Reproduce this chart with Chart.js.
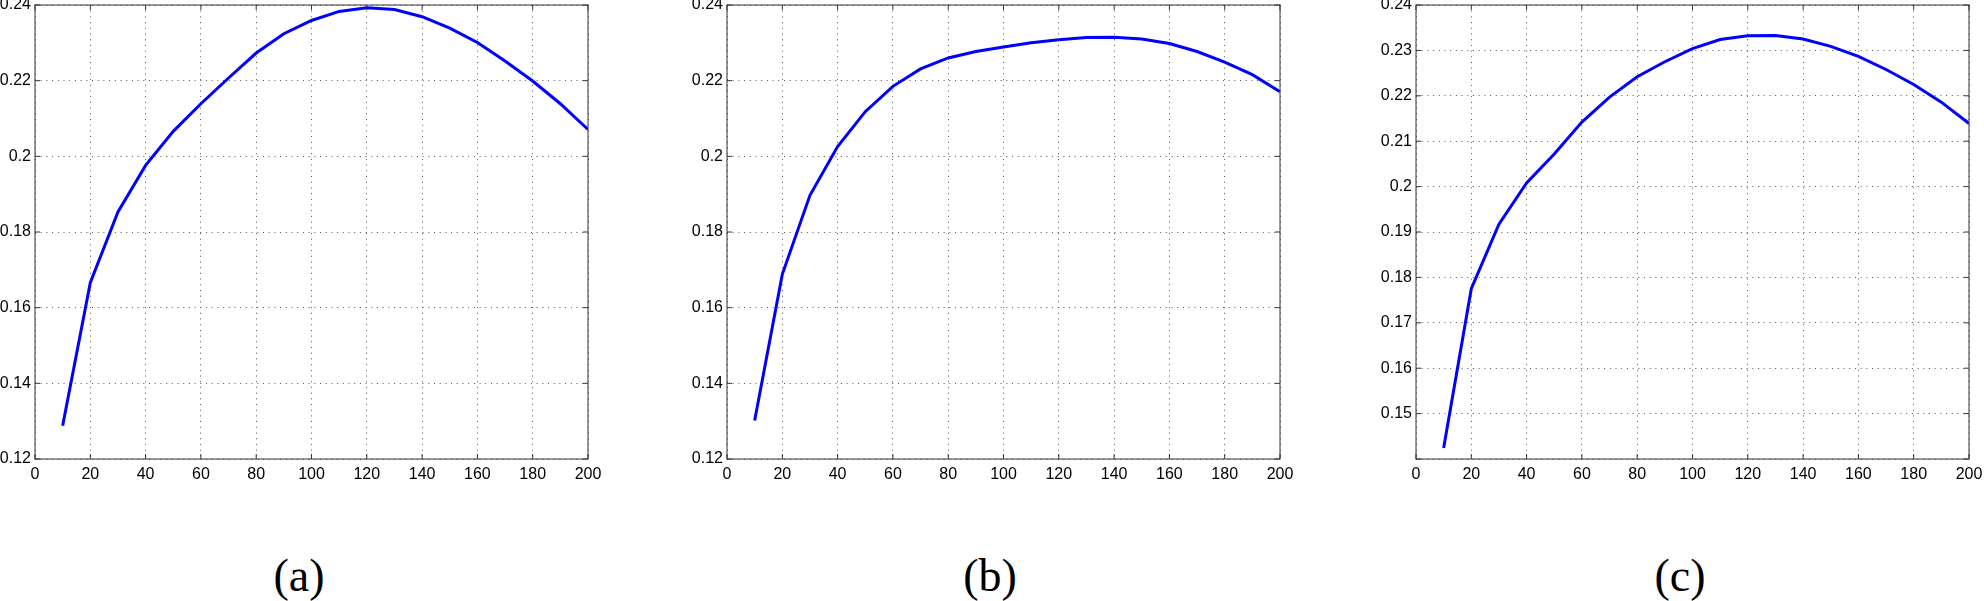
<!DOCTYPE html>
<html>
<head>
<meta charset="utf-8">
<script src="https://cdn.jsdelivr.net/npm/chart.js@4/dist/chart.umd.min.js"></script>
<style>
  html, body { margin: 0; padding: 0; background: #fff; }
  body { width: 1984px; height: 601px; position: relative; overflow: hidden; }
  .panel { position: absolute; top: 0; width: 623px; height: 490px; }
  .caption {
    position: absolute; top: 553px; width: 200px; margin-left: -100px;
    text-align: center; font-family: "Liberation Serif", "Times New Roman", serif;
    font-size: 46px; line-height: 46px; color: #000;
  }
</style>
</head>
<body>
<div class="panel" style="left:-5.5px"><canvas id="chart-a"></canvas></div>
<div class="panel" style="left:687px"><canvas id="chart-b"></canvas></div>
<div class="panel" style="left:1376px"><canvas id="chart-c"></canvas></div>
<div class="caption" style="left:299px">(a)</div>
<div class="caption" style="left:990px">(b)</div>
<div class="caption" style="left:1680px">(c)</div>
<script>
// x positions shared by all three panels
const xValues = [10, 20, 30, 40, 50, 60, 70, 80, 90, 100, 110, 120, 130, 140, 150, 160, 170, 180, 190, 200];

// values
const seriesA = [0.1288, 0.1666, 0.1853, 0.1976, 0.2066, 0.2139, 0.2207, 0.2273, 0.2324, 0.2359,
                 0.2383, 0.2393, 0.2388, 0.2369, 0.2339, 0.2301, 0.2252, 0.2199, 0.2139, 0.2071];
const seriesB = [0.1302, 0.1688, 0.1897, 0.2026, 0.2118, 0.2185, 0.2231, 0.2260, 0.2277, 0.2289,
                 0.2300, 0.2308, 0.2314, 0.2315, 0.2310, 0.2298, 0.2277, 0.2249, 0.2216, 0.2171];
const seriesC = [0.1424, 0.1775, 0.1917, 0.2008, 0.2072, 0.2142, 0.2197, 0.2242, 0.2275, 0.2304,
                 0.2324, 0.2332, 0.2333, 0.2325, 0.2309, 0.2287, 0.2258, 0.2225, 0.2186, 0.2139];

// axis ranges
const xRange = { min: 0, max: 200, step: 20 };
const yRangeAB = { min: 0.12, max: 0.24, step: 0.02 };
const yRangeC = { min: 0.14, max: 0.24, step: 0.01 };
const hiddenYTicksC = [0.14];

const tickFont = { family: "'Liberation Sans', Arial, sans-serif", size: 16 };

// box round the plot area with MATLAB style inward ticks
const framePlugin = {
  id: 'frame',
  afterDatasetsDraw(chart) {
    const { ctx, chartArea: a, scales } = chart;
    ctx.save();
    ctx.strokeStyle = '#333';
    ctx.lineWidth = 1;
    ctx.strokeRect(a.left, a.top, a.right - a.left, a.bottom - a.top);
    const len = 5;
    ctx.beginPath();
    scales.x.ticks.forEach(t => {
      const px = scales.x.getPixelForValue(t.value);
      ctx.moveTo(px, a.bottom); ctx.lineTo(px, a.bottom - len);
      ctx.moveTo(px, a.top); ctx.lineTo(px, a.top + len);
    });
    scales.y.ticks.forEach(t => {
      const py = scales.y.getPixelForValue(t.value);
      ctx.moveTo(a.left, py); ctx.lineTo(a.left + len, py);
      ctx.moveTo(a.right, py); ctx.lineTo(a.right - len, py);
    });
    ctx.stroke();
    ctx.restore();
  }
};

function makeChart(id, values, yRange, hidden = []) {
  const ctx = document.getElementById(id);
  return new Chart(ctx, {
    type: 'line',
    data: {
      labels: xValues,
      datasets: [{
        data: xValues.map((x, i) => ({ x, y: values[i] })),
        borderColor: '#0000ff',
        borderWidth: 3,
        pointRadius: 0,
        tension: 0,
        fill: false
      }]
    },
    options: {
      responsive: true,
      maintainAspectRatio: false,
      animation: false,
      events: [],
      layout: { padding: { top: 5, right: 30, bottom: 0, left: 0 } },
      plugins: { legend: { display: false }, tooltip: { enabled: false } },
      scales: {
        x: {
          type: 'linear',
          min: xRange.min,
          max: xRange.max,
          afterFit(scale) {
            scale.height = 31;
            scale.paddingLeft = 0;
            scale.paddingRight = 0;
          },
          ticks: {
            stepSize: xRange.step,
            color: '#000',
            font: tickFont,
            padding: 6,
            maxRotation: 0,
            autoSkip: false
          },
          grid: { color: '#555', lineWidth: 1, drawTicks: false },
          border: { display: false, dash: [1, 4.7] }
        },
        y: {
          min: yRange.min,
          max: yRange.max,
          afterFit(scale) {
            scale.width = 40;
            scale.paddingTop = 0;
            scale.paddingBottom = 0;
          },
          ticks: {
            stepSize: yRange.step,
            color: '#000',
            font: tickFont,
            padding: 4,
            autoSkip: false,
            callback(value) {
              const v = +value.toFixed(2);
              if (hidden.includes(v)) return '';
              return String(v);
            }
          },
          grid: { color: '#555', lineWidth: 1, drawTicks: false },
          border: { display: false, dash: [1, 4.7] }
        }
      }
    },
    plugins: [framePlugin]
  });
}

makeChart('chart-a', seriesA, yRangeAB);
makeChart('chart-b', seriesB, yRangeAB);
makeChart('chart-c', seriesC, yRangeC, hiddenYTicksC);
</script>
</body>
</html>
